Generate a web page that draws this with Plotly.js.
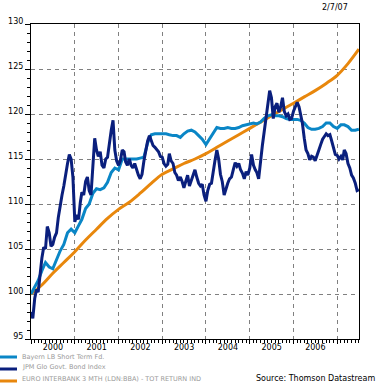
<!DOCTYPE html>
<html><head><meta charset="utf-8">
<script src="https://cdn.plot.ly/plotly-3.0.1.min.js"></script>
<style>html,body{margin:0;padding:0;background:#fff}#chart{width:385px;height:385px}</style>
</head><body><div id="chart"></div>
<script>
var months = [
'2000-01-01','2000-02-01','2000-03-01','2000-04-01','2000-05-01','2000-06-01','2000-07-01','2000-08-01','2000-09-01','2000-10-01','2000-11-01','2000-12-01',
'2001-01-01','2001-02-01','2001-03-01','2001-04-01','2001-05-01','2001-06-01','2001-07-01','2001-08-01','2001-09-01','2001-10-01','2001-11-01','2001-12-01',
'2002-01-01','2002-02-01','2002-03-01','2002-04-01','2002-05-01','2002-06-01','2002-07-01','2002-08-01','2002-09-01','2002-10-01','2002-11-01','2002-12-01',
'2003-01-01','2003-02-01','2003-03-01','2003-04-01','2003-05-01','2003-06-01','2003-07-01','2003-08-01','2003-09-01','2003-10-01','2003-11-01','2003-12-01',
'2004-01-01','2004-02-01','2004-03-01','2004-04-01','2004-05-01','2004-06-01','2004-07-01','2004-08-01','2004-09-01','2004-10-01','2004-11-01','2004-12-01',
'2005-01-01','2005-02-01','2005-03-01','2005-04-01','2005-05-01','2005-06-01','2005-07-01','2005-08-01','2005-09-01','2005-10-01','2005-11-01','2005-12-01',
'2006-01-01','2006-02-01','2006-03-01','2006-04-01','2006-05-01','2006-06-01','2006-07-01','2006-08-01','2006-09-01','2006-10-01','2006-11-01','2006-12-01',
'2007-01-01','2007-02-01','2007-03-01','2007-04-01','2007-05-01','2007-06-01','2007-07-01'];

var halfMonths = [
'2000-01-01','2000-01-16','2000-02-01','2000-02-16','2000-03-01','2000-03-16','2000-04-01','2000-04-16','2000-05-01','2000-05-16','2000-06-01','2000-06-16',
'2000-07-01','2000-07-16','2000-08-01','2000-08-16','2000-09-01','2000-09-16','2000-10-01','2000-10-16','2000-11-01','2000-11-16','2000-12-01','2000-12-16',
'2001-01-01','2001-01-16','2001-02-01','2001-02-16','2001-03-01','2001-03-16','2001-04-01','2001-04-16','2001-05-01','2001-05-16','2001-06-01','2001-06-16',
'2001-07-01','2001-07-16','2001-08-01','2001-08-16','2001-09-01','2001-09-16','2001-10-01','2001-10-16','2001-11-01','2001-11-16','2001-12-01','2001-12-16',
'2002-01-01','2002-01-16','2002-02-01','2002-02-16','2002-03-01','2002-03-16','2002-04-01','2002-04-16','2002-05-01','2002-05-16','2002-06-01','2002-06-16',
'2002-07-01','2002-07-16','2002-08-01','2002-08-16','2002-09-01','2002-09-16','2002-10-01','2002-10-16','2002-11-01','2002-11-16','2002-12-01','2002-12-16',
'2003-01-01','2003-01-16','2003-02-01','2003-02-16','2003-03-01','2003-03-16','2003-04-01','2003-04-16','2003-05-01','2003-05-16','2003-06-01','2003-06-16',
'2003-07-01','2003-07-16','2003-08-01','2003-08-16','2003-09-01','2003-09-16','2003-10-01','2003-10-16','2003-11-01','2003-11-16','2003-12-01','2003-12-16',
'2004-01-01','2004-01-16','2004-02-01','2004-02-16','2004-03-01','2004-03-16','2004-04-01','2004-04-16','2004-05-01','2004-05-16','2004-06-01','2004-06-16',
'2004-07-01','2004-07-16','2004-08-01','2004-08-16','2004-09-01','2004-09-16','2004-10-01','2004-10-16','2004-11-01','2004-11-16','2004-12-01','2004-12-16',
'2005-01-01','2005-01-16','2005-02-01','2005-02-16','2005-03-01','2005-03-16','2005-04-01','2005-04-16','2005-05-01','2005-05-16','2005-06-01','2005-06-16',
'2005-07-01','2005-07-16','2005-08-01','2005-08-16','2005-09-01','2005-09-16','2005-10-01','2005-10-16','2005-11-01','2005-11-16','2005-12-01','2005-12-16',
'2006-01-01','2006-01-16','2006-02-01','2006-02-16','2006-03-01','2006-03-16','2006-04-01','2006-04-16','2006-05-01','2006-05-16','2006-06-01','2006-06-16',
'2006-07-01','2006-07-16','2006-08-01','2006-08-16','2006-09-01','2006-09-16','2006-10-01','2006-10-16','2006-11-01','2006-11-16','2006-12-01','2006-12-16',
'2007-01-01','2007-01-16','2007-02-01','2007-02-16','2007-03-01','2007-03-16','2007-04-01','2007-04-16','2007-05-01','2007-05-16','2007-06-01','2007-06-16',
'2007-07-01'];

var bayernLB = [
100.0,100.8,101.5,102.6,103.5,103.0,102.8,103.8,104.8,105.5,106.8,107.2,
106.8,107.6,108.3,109.5,110.0,111.2,111.7,111.6,111.8,112.4,113.5,114.0,
113.8,115.0,115.0,115.0,115.0,115.0,115.1,115.2,116.8,117.7,117.8,117.8,
117.8,117.8,117.7,117.6,117.6,117.4,117.8,118.1,118.2,118.0,117.6,117.2,
116.6,117.3,117.8,118.5,118.4,118.4,118.5,118.4,118.4,118.5,118.7,118.8,
118.9,119.0,118.9,119.1,119.5,119.8,119.9,119.8,119.8,119.7,119.5,119.4,
119.4,119.4,119.3,119.0,118.5,118.3,118.3,118.4,118.6,119.0,119.0,118.6,
118.4,118.8,118.8,118.6,118.2,118.2,118.3];

var jpmGlobal = [
98.0,97.3,99.5,100.5,100.2,102.5,104.0,105.2,105.0,107.5,106.8,105.3,
105.5,106.3,106.8,108.5,110.0,111.0,112.0,113.5,114.5,115.5,115.0,113.0,
108.0,108.8,108.3,110.2,111.3,111.0,112.5,113.0,111.5,111.0,115.0,117.3,
116.0,115.3,115.8,114.3,114.0,115.0,115.2,117.0,118.2,119.3,116.0,114.8,
114.3,114.8,116.0,115.8,114.7,114.3,115.0,114.3,114.0,114.5,113.8,113.2,
112.8,113.3,114.8,116.0,117.0,117.6,117.0,116.5,116.3,116.0,115.8,115.3,
115.2,114.5,114.2,114.4,115.6,114.8,114.5,113.5,113.2,112.6,113.0,112.5,
111.8,112.5,113.2,112.0,112.6,113.3,113.8,113.0,112.3,112.0,112.2,111.0,
110.3,111.5,112.2,112.3,113.8,114.8,116.0,115.0,113.3,112.5,111.0,111.8,
112.3,112.8,113.0,113.8,114.6,114.2,114.5,113.8,113.4,112.8,113.6,113.2,
114.0,115.5,114.3,113.8,113.5,112.8,115.0,116.5,118.0,119.5,121.0,122.6,
121.8,119.5,120.8,121.2,120.2,120.8,121.8,120.3,119.8,120.0,119.4,119.5,
120.3,120.8,121.3,120.8,120.0,119.0,117.3,116.0,115.6,114.9,115.3,115.2,
114.8,115.3,116.0,116.6,117.2,117.5,117.8,117.6,117.7,117.0,116.3,115.5,
115.4,115.0,115.3,114.9,116.0,115.6,114.5,114.0,113.2,112.9,112.3,111.5,
111.6];

var quarters = ['2000-01-01','2000-04-01','2000-07-01','2000-10-01','2001-01-01','2001-04-01','2001-07-01','2001-10-01',
'2002-01-01','2002-04-01','2002-07-01','2002-10-01','2003-01-01','2003-04-01','2003-07-01','2003-10-01',
'2004-01-01','2004-04-01','2004-07-01','2004-10-01','2005-01-01','2005-04-01','2005-07-01','2005-10-01',
'2006-01-01','2006-04-01','2006-07-01','2006-10-01','2007-01-01','2007-04-01','2007-07-01'];
var euribor = [100.0,101.0,102.3,103.5,104.7,106.0,107.2,108.4,109.4,110.2,111.2,112.3,113.3,113.9,114.5,115.0,
115.6,116.3,117.0,117.7,118.4,119.1,119.8,120.5,121.2,121.9,122.6,123.4,124.3,125.6,127.2];

var seriesNames = ['Bayern LB Short Term Fd.','JPM Glo Govt. Bond Index','EURO INTERBANK 3 MTH (LDN:BBA) - TOT RETURN IND'];
var seriesColors = ['#0a86c6','#0a1f7d','#e8870c'];

var traces = [
  {x: quarters, y: euribor, name: seriesNames[2], mode:'lines', line:{color:seriesColors[2], width:3, shape:'spline'}},
  {x: months, y: bayernLB, name: seriesNames[0], mode:'lines', line:{color:seriesColors[0], width:3}},
  {x: halfMonths, y: jpmGlobal, name: seriesNames[1], mode:'lines', line:{color:seriesColors[1], width:3}}
];

var shapes = [], annotations = [];
var legY = [357, 369, 381];
var legTextY = [356.5, 367.5, 378.5];
for (var i = 0; i < 3; i++) {
  shapes.push({type:'line', xref:'paper', yref:'paper',
    x0:(0-31)/328, x1:(17-31)/328, y0:(339-legY[i])/315, y1:(339-legY[i])/315,
    line:{color:seriesColors[i], width:3}});
  annotations.push({xref:'paper', yref:'paper', x:(20-31)/328, y:(339-legTextY[i])/315,
    xanchor:'left', yanchor:'middle', showarrow:false, text:seriesNames[i],
    font:{family:'DejaVu Sans', size:6.5, color:'#9a9a9a'}});
}
annotations.push({xref:'paper', yref:'paper', x:(377-31)/328, y:(339-378)/315, xanchor:'right', yanchor:'middle',
  showarrow:false, text:'Source: Thomson Datastream', font:{family:'DejaVu Sans', size:8, color:'#000'}});
annotations.push({xref:'paper', yref:'paper', x:(350-31)/328, y:(339-8)/315, xanchor:'right', yanchor:'middle',
  showarrow:false, text:'2/7/07', font:{family:'DejaVu Sans', size:8, color:'#000'}});

var layout = {
  width:385, height:385, autosize:false,
  margin:{l:31, r:26, t:24, b:46},
  paper_bgcolor:'#fff', plot_bgcolor:'#fff',
  showlegend:false,
  font:{family:'DejaVu Sans', size:8, color:'#000'},
  xaxis:{type:'date', range:['2000-01-01','2007-07-02'], dtick:'M12', tick0:'2000-01-01',
    ticklabelmode:'period', tickformat:'%Y', ticks:'outside', ticklen:4, tickcolor:'#000',
    ticklabelstandoff:-4,
    showgrid:true, gridcolor:'#808080', griddash:'4px,4px', gridwidth:1,
    showline:true, linecolor:'#000', linewidth:1, mirror:true, zeroline:false,
    minor:{dtick:'M1', ticks:'outside', ticklen:3, tickcolor:'#000', showgrid:false},
    tickfont:{family:'DejaVu Sans', size:8, color:'#000'}},
  yaxis:{range:[95,130], dtick:5, tick0:95, ticks:'outside', ticklen:5, tickcolor:'#000',
    showgrid:true, gridcolor:'#808080', griddash:'4px,4px', gridwidth:1,
    showline:true, linecolor:'#000', linewidth:1, mirror:true, zeroline:false,
    ticklabelshift:-3,
    minor:{dtick:1, ticks:'outside', ticklen:3, tickcolor:'#000', showgrid:false},
    tickfont:{family:'DejaVu Sans', size:8, color:'#000'}},
  shapes:shapes, annotations:annotations
};
Plotly.newPlot('chart', traces, layout, {staticPlot:true, displayModeBar:false});
</script></body></html>
